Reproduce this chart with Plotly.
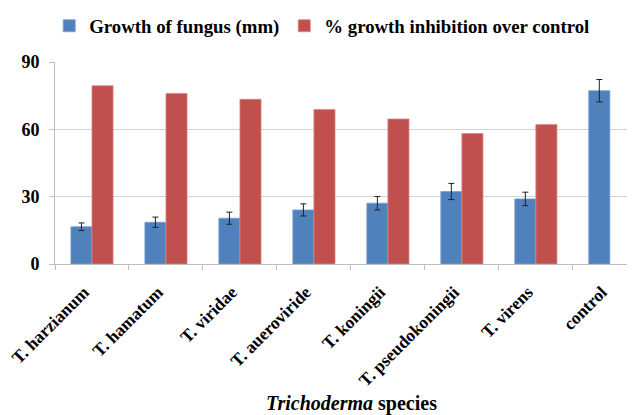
import plotly.graph_objects as go

categories = ["T. harzianum", "T. hamatum", "T. viridae", "T. aueroviride",
              "T. koningii", "T. pseudokoningii", "T. virens", "control"]
growth = [16.6, 18.6, 20.4, 24.1, 27.1, 32.3, 29.0, 77.2]
growth_err = [1.7, 2.3, 2.7, 2.7, 3.0, 3.6, 3.0, 5.0]
inhibition = [79.4, 76.0, 73.4, 68.8, 64.6, 58.1, 62.1, None]

serif = "Liberation Serif"

fig = go.Figure()
fig.add_trace(go.Bar(
    x=categories, y=growth, name="<b>Growth of fungus (mm)</b>",
    marker=dict(color="#4F81BD", line=dict(color="#7A9FD0", width=0.8)),
    error_y=dict(type="data", array=growth_err, color="#222222", thickness=1, width=3),
))
fig.add_trace(go.Bar(
    x=categories, y=inhibition, name="<b>% growth inhibition over control</b>",
    marker=dict(color="#C0504D", line=dict(color="#D88684", width=0.8)),
))

fig.update_layout(
    width=627, height=407,
    margin=dict(l=47, r=0, t=54, b=151, autoexpand=False),
    paper_bgcolor="white", plot_bgcolor="white",
    barmode="group", bargap=0.43, bargroupgap=0,
    font=dict(family=serif, color="black"),
    showlegend=True,
    legend=dict(orientation="h", x=-0.01, xanchor="left", y=1.178, yanchor="middle",
                font=dict(family=serif, size=18.8, color="black"),
                itemwidth=30, tracegroupgap=0, bgcolor="rgba(0,0,0,0)"),
    xaxis=dict(
        range=[-0.5, 7.34],
        tickson="boundaries", ticks="outside", ticklen=5, tickcolor="#bfbfbf",
        showline=True, linecolor="#bfbfbf", linewidth=1,
        tickangle=-45, ticklabelshift=-8, ticklabelstandoff=10,
        tickfont=dict(family=serif, size=17.5, color="black"),
        tickprefix="<b>", ticksuffix="</b>",
        showgrid=False, automargin=False,
    ),
    yaxis=dict(
        range=[0, 90], tickvals=[0, 30, 60, 90],
        ticktext=["<b>0</b>", "<b>30</b>", "<b>60</b>", "<b>90</b>"],
        showgrid=True, gridcolor="#d4d4d4", gridwidth=1,
        showline=True, linecolor="#bfbfbf", linewidth=1,
        ticks="outside", ticklen=5, tickcolor="#bfbfbf", ticklabelstandoff=6,
        tickfont=dict(family=serif, size=18, color="black"),
        zeroline=False, automargin=False,
    ),
    annotations=[dict(
        text="<b><i>Trichoderma</i> species</b>", x=0.512, y=-0.69,
        xref="paper", yref="paper", xanchor="center", yanchor="middle",
        showarrow=False, font=dict(family=serif, size=20, color="black"),
    )],
)

fig.write_html("out.html")
